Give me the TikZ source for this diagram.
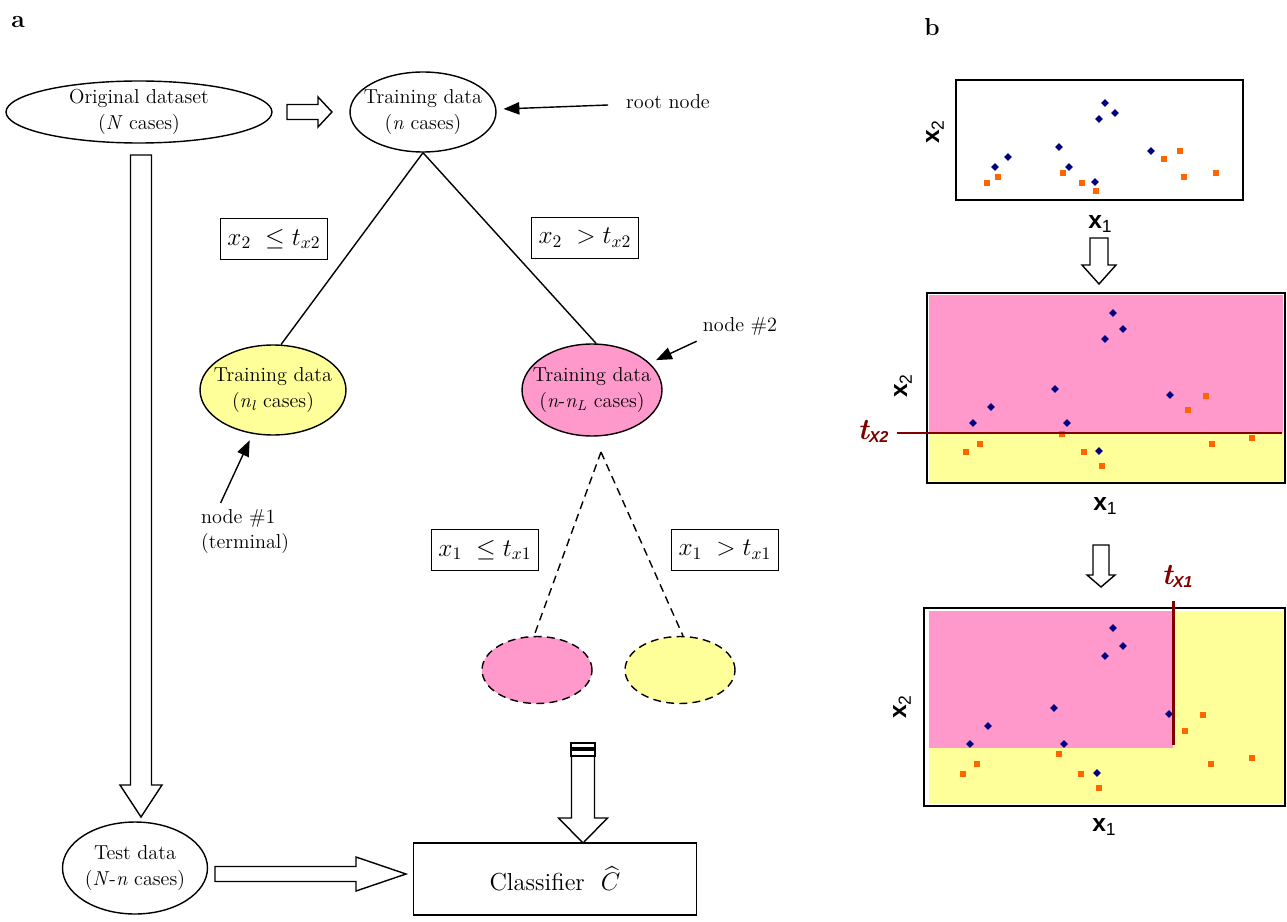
\documentclass[tikz,border=0pt]{standalone}
\usepackage{amsmath,amssymb}
\usepackage{fontspec}
\newfontfamily\axisfont{Liberation Sans}
\usetikzlibrary{shapes.geometric,arrows.meta,calc}

\definecolor{leafpink}{RGB}{255,153,204}
\definecolor{leafyellow}{RGB}{255,255,153}
\definecolor{dotblue}{RGB}{0,0,128}
\definecolor{dotorange}{RGB}{255,102,0}
\definecolor{cutred}{RGB}{128,0,0}

\newcommand{\axsub}[1]{\raisebox{-0.35ex}{\fontsize{10}{12}\selectfont\mdseries #1}}
\newcommand{\tlab}[1]{{\fontsize{17}{19}\selectfont\bfseries\itshape t}\raisebox{-0.4ex}{\axisfont\fontsize{9}{11}\selectfont\bfseries\itshape #1}}
\newcommand{\bluedot}[2]{\fill[dotblue] (#1,#2-3.8) -- (#1+3.8,#2) -- (#1,#2+3.8) -- (#1-3.8,#2) -- cycle;}
\newcommand{\orangesq}[2]{\fill[dotorange] (#1-2.6,#2-2.6) rectangle (#1+2.6,#2+2.6);}
% hollow block arrow: tail, tip, half body, half head, head length
\newcommand{\fatarrow}[5]{%
  \coordinate (fatbase) at ($(#2)!#5!(#1)$);
  \path[fatline] ($(#1)!#3!90:(#2)$) -- ($(fatbase)!#3!90:(#2)$) -- ($(fatbase)!#4!90:(#2)$) -- (#2)
    -- ($(fatbase)!#4!-90:(#2)$) -- ($(fatbase)!#3!-90:(#2)$) -- ($(#1)!#3!-90:(#2)$) -- cycle;}

\tikzset{
  data/.style={ellipse,draw,line width=0.8pt,align=center,inner xsep=-12pt,inner ysep=-3pt,
    font=\fontsize{11.5}{14.5}\selectfont},
  cond/.style={draw,line width=0.6pt,minimum height=0.82cm,inner xsep=4pt,font=\fontsize{14}{16}\selectfont},
  leaf/.style={ellipse,draw,dash pattern=on 4.5pt off 3pt,line width=0.8pt,minimum width=2.2cm,minimum height=1.34cm},
  pointer/.style={-{Triangle[length=9pt,width=7pt]},line width=0.8pt,shorten >=4pt},
  note/.style={font=\fontsize{11.5}{14.5}\selectfont},
  fatline/.style={draw,fill=white,line width=0.8pt},
  axislab/.style={font=\axisfont\fontsize{14}{16}\selectfont\bfseries},
  cutline/.style={cutred,line width=1.7pt},
  frame/.style={line width=0.8pt}
}

\begin{document}
\begin{tikzpicture}[x=0.02cm,y=-0.02cm]
\useasboundingbox (0,0) rectangle (1287,922);

\node[font=\fontsize{14}{16}\selectfont\bfseries] (lbla) at (18,22) {a};
\node[font=\fontsize{14}{16}\selectfont\bfseries] (lblb) at (932,27) {b};

% tree
\node[data,minimum width=5.32cm,minimum height=1.24cm] (orig) at (139,112) {Original dataset\\(\textit{N} cases)};
\node[data,minimum width=2.92cm,minimum height=1.6cm] (root) at (423,112) {Training data\\(\textit{n} cases)};
\node[data,fill=leafyellow,minimum width=2.92cm,minimum height=1.8cm] (n1) at (273,390) {Training data\\(\textit{n}\textsubscript{\textit{l}} cases)};
\node[data,fill=leafpink,minimum width=2.8cm,minimum height=1.84cm] (n2) at (592,390) {Training data\\(\textit{n}-\textit{n}\textsubscript{\textit{L}} cases)};
\node[leaf,fill=leafpink] (leafl) at (537,670) {};
\node[leaf,fill=leafyellow] (leafr) at (680,670) {};
\node[data,minimum width=2.9cm,minimum height=1.84cm] (test) at (135,868) {Test data\\(\textit{N}-\textit{n} cases)};
\node[draw,line width=0.8pt,minimum width=5.66cm,minimum height=1.44cm,font=\fontsize{14}{16}\selectfont] (clf) at (555,879) {Classifier~~$\widehat{C}$};

\node[cond] (c2le) at (274,239) {$x_2\;\le t_{x2}$};
\node[cond] (c2gt) at (585,238) {$x_2\;> t_{x2}$};
\node[cond] (c1le) at (485,550) {$x_1\;\le t_{x1}$};
\node[cond] (c1gt) at (725,550) {$x_1\;> t_{x1}$};

\draw[line width=0.8pt] (root.south) -- (n1.80);
\draw[line width=0.8pt] (root.south) -- (n2.85);
\coordinate (split) at (601,452);
\draw[line width=0.8pt,dash pattern=on 4.5pt off 3pt] (split) -- (leafl.95);
\draw[line width=0.8pt,dash pattern=on 4.5pt off 3pt] (split) -- (leafr.85);

% notes
\node[note] (rootlbl) at (668,102) {root node};
\node[note] (n2lbl) at (740,326) {node \#2};
\node[note,align=left,anchor=north west] (n1lbl) at (195,503) {node \#1\\(terminal)};
\draw[pointer] ($(rootlbl.west)+(-12,3)$) -- (root);
\draw[pointer] (n2lbl.south west) -- (n2);
\draw[pointer] ([xshift=-14pt]n1lbl.north) -- (n1);

% block arrows
\coordinate (a1s) at (287,112); \coordinate (a1e) at (332,112);
\fatarrow{a1s}{a1e}{0.15cm}{0.3cm}{0.28cm}
\coordinate (a2s) at (141,155); \coordinate (a2e) at (141,817);
\fatarrow{a2s}{a2e}{0.21cm}{0.42cm}{0.64cm}
\coordinate (a3s) at (215,874); \coordinate (a3e) at (406,874);
\fatarrow{a3s}{a3e}{0.15cm}{0.34cm}{1.0cm}
\coordinate (a4s) at (583,756); \coordinate (a4e) at (583,843);
\fatarrow{a4s}{a4e}{0.23cm}{0.49cm}{0.5cm}
\draw[frame] (571,743) rectangle (595,748);
\draw[frame] (571,750) rectangle (595,756);

% panel 1
\draw[frame] (956,80) rectangle (1243,200);
\foreach \px/\py in {987/183,998/177,1063/173,1082/183,1096/191,1164/159,1180/151,1184/177,1216/173} {\orangesq{\px}{\py}}
\foreach \px/\py in {995/167,1008/157,1059/147,1069/167,1095/182,1099/119,1105/103,1115/113,1151/151} {\bluedot{\px}{\py}}
\node[axislab,rotate=90] (p1y) at (935,132) {x\axsub{2}};
\node[axislab] (p1x) at (1100,224) {x\axsub{1}};
\coordinate (a5s) at (1099,238); \coordinate (a5e) at (1099,284);
\fatarrow{a5s}{a5e}{0.18cm}{0.34cm}{0.38cm}

% panel 2
\fill[leafyellow] (929,433) rectangle (1283,481);
\fill[leafpink] (929,295) rectangle (1283,433);
\draw[frame] (927,293) rectangle (1285,483);
\foreach \px/\py in {966/452,980/444,1062/434,1084/452,1102/466,1188/410,1206/396,1212/444,1252/438} {\orangesq{\px}{\py}}
\foreach \px/\py in {973/423,991/407,1055/389,1067/423,1099/451,1105/339,1113/313,1123/329,1170/395} {\bluedot{\px}{\py}}
\draw[cutline] (897,433) -- (1282,433);
\node[text=cutred,inner sep=0pt] (tx2) at (873,431) {\tlab{X2}};
\node[axislab,rotate=90] (p2y) at (903,386) {x\axsub{2}};
\node[axislab] (p2x) at (1105,506) {x\axsub{1}};
\coordinate (a6s) at (1101,545); \coordinate (a6e) at (1101,587);
\fatarrow{a6s}{a6e}{0.16cm}{0.28cm}{0.24cm}

% panel 3
\fill[leafyellow] (929,611) rectangle (1283,804);
\fill[leafpink] (929,611) rectangle (1173,748);
\draw[frame] (924,608) rectangle (1285,806);
\foreach \px/\py in {963/774,977/764,1059/754,1081/774,1099/788,1185/731,1203/715,1211/764,1252/758} {\orangesq{\px}{\py}}
\foreach \px/\py in {970/744,988/726,1054/708,1064/744,1097/773,1105/656,1113/628,1123/646,1169/714} {\bluedot{\px}{\py}}
\draw[cutline] (1173,601) -- (1173,745);
\node[text=cutred,inner sep=0pt] (tx1) at (1177,576) {\tlab{X1}};
\node[axislab,rotate=90] (p3y) at (902,707) {x\axsub{2}};
\node[axislab] (p3x) at (1104,827) {x\axsub{1}};
\end{tikzpicture}
\end{document}
